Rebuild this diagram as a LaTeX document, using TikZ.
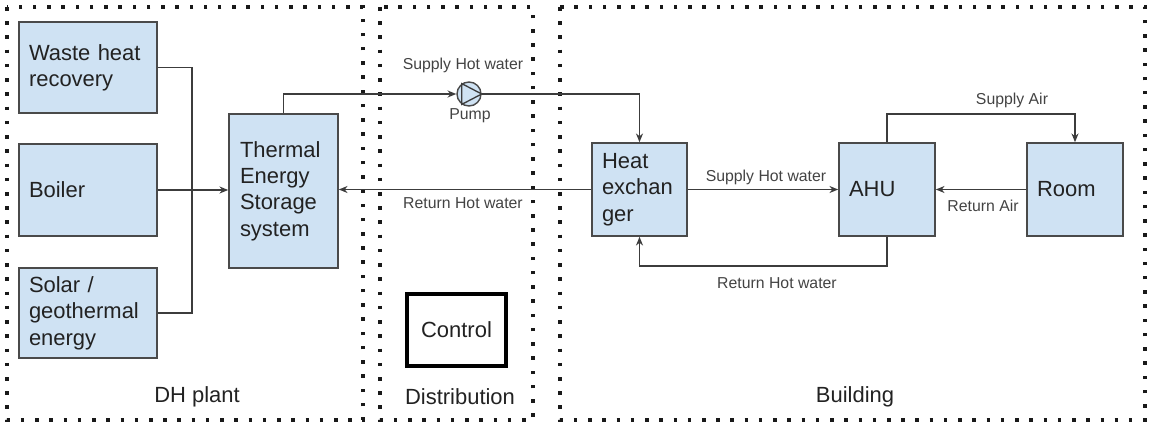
\documentclass[tikz,border=0pt]{standalone}
\usepackage{fontspec}
\setmainfont{Liberation Sans}
\usetikzlibrary{arrows.meta}
\definecolor{boxblue}{HTML}{CFE2F3}
\definecolor{boxline}{HTML}{4A4A4A}
\definecolor{pipegray}{HTML}{3C3C3C}
\definecolor{textgray}{HTML}{222222}
\begin{document}
\begin{tikzpicture}
[x=0.02cm, y=-0.02cm, font=\fontsize{12.5}{15}\selectfont, text=textgray]
\tikzstyle{unit}=[rectangle, draw=boxline, fill=boxblue, line width=0.9pt, align=left, inner xsep=0.2cm, inner ysep=0pt]
\tikzstyle{pipe}=[draw=pipegray, line width=0.75pt, -{Stealth[length=5pt, width=4pt]}]
\tikzstyle{plain}=[draw=pipegray, line width=0.75pt]
\tikzstyle{flow}=[font=\fontsize{9}{11}\selectfont, text=textgray!85, inner sep=1pt]
\tikzstyle{dotbox}=[draw=black!90, line width=2pt, dash pattern=on 2pt off 6.1pt]
\tikzstyle{pump}=[circle, draw=boxline, fill=boxblue, line width=0.8pt, minimum size=0.48cm, inner sep=0pt]
\useasboundingbox (0,0) rectangle (1150,426);

% regions
\draw[dotbox]	(7,7) rectangle (363,420);
\draw[dotbox]	(380,7) rectangle (533,420);
\draw[dotbox]	(560,7) rectangle (1145,420);
\node	(DHlabel)	at (197,397) {DH plant};
\node	(Distlabel)	at (460,397) {Distribution};
\node	(Buildlabel)	at (855,397) {Building};

% plant units
\node[unit, text width=2.36cm, minimum height=1.82cm]	(WHR)	at (88,67.5)	{Waste heat\\recovery};
\node[unit, text width=2.36cm, minimum height=1.84cm]	(Boiler)	at (88,190)	{Boiler};
\node[unit, text width=2.36cm, minimum height=1.80cm]	(Solar)	at (88,313)	{Solar /\\geothermal\\energy};
\node[unit, text width=1.74cm, minimum height=3.08cm, inner xsep=0.22cm]	(TES)	at (283.5,191)	{Thermal\\Energy\\Storage\\system};

% distribution
\node[pump]	(Pump)	at (469,94) {};
\draw[plain]	(Pump.125) -- (Pump.east) -- (Pump.235) -- cycle;
\node[draw=black, line width=1.8pt, minimum width=1.98cm, minimum height=1.44cm]	(Ctrl)	at (456.5,330) {Control};

% building units
\node[unit, text width=1.5cm, minimum height=1.86cm]	(HX)	at (639.5,189.5)	{Heat\\exchan\\ger};
\node[unit, text width=1.52cm, minimum height=1.86cm]	(AHU)	at (887,189.5)	{AHU};
\node[unit, text width=1.52cm, minimum height=1.86cm]	(Room)	at (1075,189.5)	{Room};

\coordinate	(bus)	at (192,190);
\coordinate	(retbend)	at (887,266);
\coordinate	(airbend)	at (887,114);

% connectors
\draw[plain]	(WHR.east) -| (bus) |- (Solar.east);
\draw[pipe]	(Boiler.east) -- (Boiler.east -| TES.west);
\draw[pipe]	(TES.north) |- (Pump.west);
\draw[pipe]	(Pump.east) -| (HX.north);
\draw[pipe]	(HX.west) -- (HX.west -| TES.east);
\draw[pipe]	(HX.east) -- (AHU.west);
\draw[pipe]	(AHU.south) -- (retbend) -| (HX.south);
\draw[pipe]	(AHU.north) -- (airbend) -| (Room.north);
\draw[pipe]	(Room.west) -- (AHU.east);

% flow labels
\node[flow]	(supplyDist)	at (463,65)	{Supply Hot water};
\node[flow]	(pumpLabel)	at (470,116)	{Pump};
\node[flow]	(returnDist)	at (463,203)	{Return Hot water};
\node[flow]	(supplyBld)	at (766,177)	{Supply Hot water};
\node[flow]	(returnBld)	at (777,283)	{Return Hot water};
\node[flow]	(supplyAir)	at (1012,100)	{Supply Air};
\node[flow]	(returnAir)	at (983,206)	{Return Air};
\end{tikzpicture}
\end{document}
